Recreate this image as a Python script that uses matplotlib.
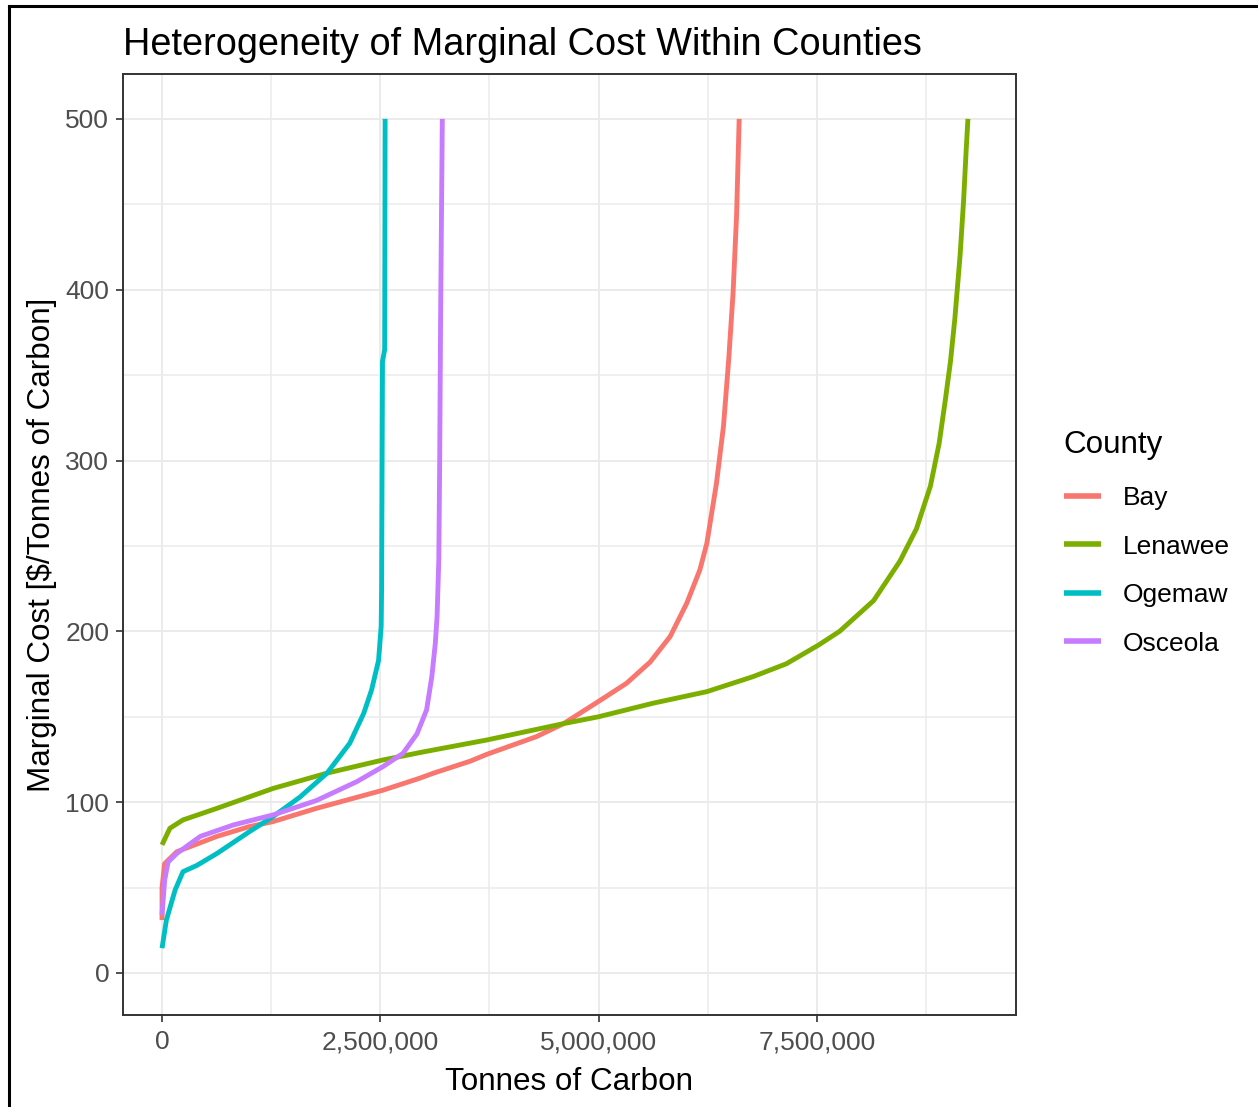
import matplotlib.pyplot as plt
from matplotlib.lines import Line2D
from matplotlib.ticker import FuncFormatter, MultipleLocator

plt.rcParams['font.family'] = ['Liberation Sans', 'DejaVu Sans']

# cumulative tonnes of carbon vs marginal cost, one supply curve per county
counties = ['Bay', 'Lenawee', 'Ogemaw', 'Osceola']
colors = ['#F8766D', '#7CAE00', '#00BFC4', '#C77CFF']

bay_t = [0, 0, 30000, 170000, 630000, 1000000, 1270000, 1770000, 2530000, 2950000,
         3110000, 3530000, 3720000, 4290000, 4600000, 5000000, 5320000, 5590000,
         5820000, 6010000, 6160000, 6240000, 6350000, 6430000, 6490000, 6540000,
         6580000, 6610000]
bay_mc = [31, 50, 64, 71, 80, 85.7, 88.6, 96.4, 107, 114, 117, 124, 128, 138.4, 146,
          159, 169.6, 182, 197, 216.5, 236, 251.6, 286.7, 320, 359, 398, 443, 500]

lenawee_t = [0, 90000, 240000, 630000, 1270000, 1890000, 2530000, 3000000, 3720000,
             4600000, 5000000, 5630000, 6240000, 6770000, 7150000, 7520000, 7760000,
             8150000, 8450000, 8640000, 8800000, 8900000, 8970000, 9030000, 9080000,
             9140000, 9180000, 9210000, 9230000]
lenawee_mc = [75, 84.7, 89.6, 96.4, 108, 117, 124.7, 129.5, 136.4, 146, 150, 158, 164.7,
              173.5, 181, 192, 200, 218, 241, 260, 285, 310, 335, 358, 383, 420, 452,
              482, 500]

ogemaw_t = [0, 50000, 150000, 240000, 400000, 630000, 1000000, 1270000, 1580000,
            1890000, 2150000, 2310000, 2400000, 2480000, 2510000, 2515000, 2525000,
            2550000, 2555000]
ogemaw_mc = [14.5, 31, 48.6, 59.3, 63, 70, 82.7, 91.5, 103, 117, 134.5, 152, 165.7,
             183, 203, 226, 358, 365, 500]

osceola_t = [0, 30000, 70000, 170000, 440000, 820000, 1270000, 1770000, 2230000,
             2530000, 2760000, 2920000, 3030000, 3090000, 3130000, 3150000, 3170000,
             3180000, 3190000, 3210000]
osceola_mc = [34, 54.4, 65, 70, 80, 86.7, 92.5, 101, 112, 120.8, 128.6, 140, 154,
              173.5, 193, 208.6, 242, 300, 380, 500]

series = [(bay_t, bay_mc), (lenawee_t, lenawee_mc), (ogemaw_t, ogemaw_mc),
          (osceola_t, osceola_mc)]

fig = plt.figure(figsize=(12.58, 11.07), dpi=100)
ax = fig.add_axes([0.0978, 0.0831, 0.7098, 0.8501])

for name, col, (t, mc) in zip(counties, colors, series):
    ax.plot(t, mc, color=col, linewidth=3.5, label=name, solid_capstyle='butt')

ax.set_xlim(-446600, 9780000)
ax.set_ylim(-24.6, 526.3)
ax.xaxis.set_major_locator(MultipleLocator(2500000))
ax.xaxis.set_minor_locator(MultipleLocator(1250000))
ax.yaxis.set_major_locator(MultipleLocator(100))
ax.yaxis.set_minor_locator(MultipleLocator(50))
ax.xaxis.set_major_formatter(FuncFormatter(lambda v, p: f"{v:,.0f}"))

ax.grid(which='major', color='#EBEBEB', linewidth=1.4)
ax.grid(which='minor', color='#EBEBEB', linewidth=1.1)
ax.set_axisbelow(True)
ax.tick_params(which='minor', length=0)
ax.tick_params(which='major', length=5, width=1.2, color='#333333',
               labelsize=19, labelcolor='#4D4D4D', pad=5)
ax.tick_params(axis='x', pad=6)
for s in ax.spines.values():
    s.set_color('#333333')
    s.set_linewidth(1.4)

ax.set_title('Heterogeneity of Marginal Cost Within Counties', loc='left',
             fontsize=27.3, pad=13.5)
ax.set_xlabel('Tonnes of Carbon', fontsize=22.6, labelpad=9)
ax.set_ylabel('Marginal Cost [\\$/Tonnes of Carbon]', fontsize=22.6, labelpad=6)

leg = ax.legend(title='County', loc='center left', bbox_to_anchor=(1.027, 0.502),
                frameon=False, fontsize=19, title_fontsize=22.6, handlelength=1.4,
                handletextpad=0.83, labelspacing=0.93, alignment='left')
leg._legend_box.sep = 19
for h in leg.legend_handles:
    h.set_linewidth(4)

# outer frame on the left and top edges
fig.add_artist(Line2D([9 / 1258, 9 / 1258], [0, 1 - 6 / 1107], color='black',
                      linewidth=2.2, transform=fig.transFigure))
fig.add_artist(Line2D([9 / 1258, 1], [1 - 6 / 1107, 1 - 6 / 1107], color='black',
                      linewidth=2.2, transform=fig.transFigure))

fig.savefig('out.png', dpi=100, facecolor='white')
